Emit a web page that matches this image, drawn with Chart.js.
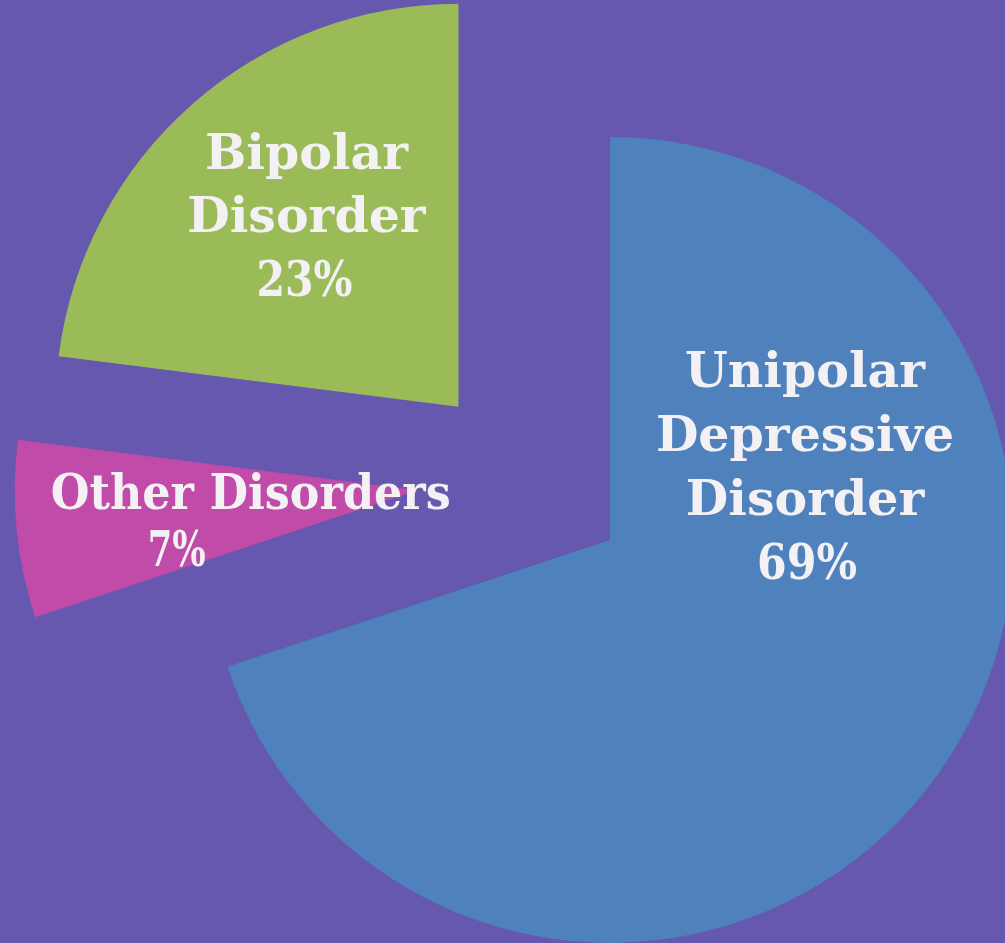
<!DOCTYPE html>
<html>
<head>
<meta charset="utf-8">
<script src="https://cdn.jsdelivr.net/npm/chart.js@4"></script>
<style>
  html, body { margin: 0; padding: 0; background: #6558ae; }
  #wrap { width: 1005px; height: 943px; position: relative; }
</style>
</head>
<body>
<div id="wrap"><canvas id="myChart"></canvas></div>
<script>
const categories = ['Unipolar Depressive Disorder', 'Other Disorders', 'Bipolar Disorder'];
const shares = [69.9, 7.1, 23.0];
const shareLabels = ['69%', '7%', '23%'];
const labelText = [
  ['Unipolar', 'Depressive', 'Disorder'],
  ['Other Disorders'],
  ['Bipolar', 'Disorder']
];
const sliceColors = ['#4f81bd', '#c04ba8', '#9bbb59'];

// how far each slice is pulled out of the pie (px), and a small turn of that pull (deg)
const explode = [116, 100, 87];
const explodeTurn = [0, -5, 0];

// label placement relative to the slice tip: centre x, first baseline, line step, shift of the % line
const labelPos = [
  { dx: 195, dy: -153, step: 64, pctDx: 2, pctWidth: 100, maxWidth: 320 },
  { dx: -167, dy: 19, step: 57, pctDx: -74, pctWidth: 58, maxWidth: 400 },
  { dx: -152, dy: -238, step: 63.5, pctDx: -2, pctWidth: 96, maxWidth: 250 }
];

const explodePlugin = {
  id: 'explode',
  afterUpdate(chart) {
    const meta = chart.getDatasetMeta(0);
    meta.data.forEach((arc, i) => {
      const mid = (arc.startAngle + arc.endAngle) / 2 + explodeTurn[i] * Math.PI / 180;
      arc.x += Math.cos(mid) * explode[i];
      arc.y += Math.sin(mid) * explode[i];
    });
  },
  afterDatasetsDraw(chart) {
    const ctx = chart.ctx;
    const meta = chart.getDatasetMeta(0);
    ctx.save();
    ctx.fillStyle = '#f3f1f4';
    ctx.font = 'bold 49px "DejaVu Serif"';
    ctx.textAlign = 'center';
    ctx.textBaseline = 'alphabetic';
    meta.data.forEach((arc, i) => {
      const p = labelPos[i];
      const lines = labelText[i];
      lines.forEach((t, j) => {
        ctx.fillText(t, arc.x + p.dx, arc.y + p.dy + j * p.step, p.maxWidth);
      });
      ctx.fillText(shareLabels[i], arc.x + p.dx + p.pctDx, arc.y + p.dy + lines.length * p.step, p.pctWidth);
    });
    ctx.restore();
  }
};

const config = {
  type: 'pie',
  data: {
    labels: categories,
    datasets: [{
      data: shares,
      backgroundColor: sliceColors,
      borderWidth: 0,
      radius: 403,
      clip: false
    }]
  },
  options: {
    responsive: true,
    maintainAspectRatio: false,
    animation: false,
    events: [],
    layout: { padding: { left: 27, top: 1, right: 0, bottom: 0 } },
    plugins: {
      legend: { display: false },
      tooltip: { enabled: false }
    }
  },
  plugins: [explodePlugin]
};

new Chart(document.getElementById('myChart'), config);
</script>
</body>
</html>
